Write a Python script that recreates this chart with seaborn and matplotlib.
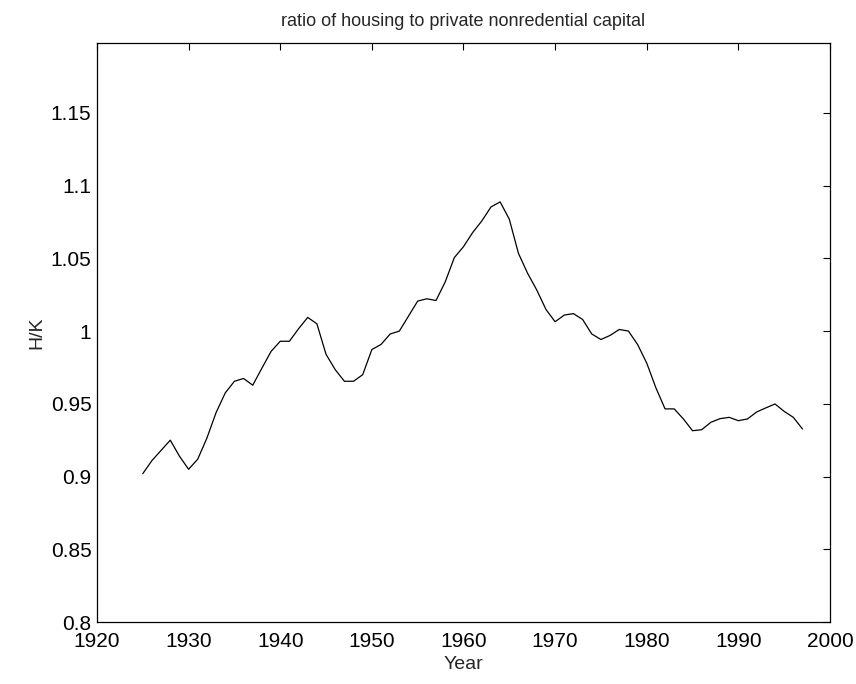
import pandas as pd
import matplotlib
matplotlib.use("Agg")
import matplotlib.pyplot as plt
import seaborn as sns

# Housing / private nonresidential capital, annual values
years = list(range(1925, 1998))
hk_ratio = [
    0.902, 0.911, 0.918, 0.925, 0.914, 0.905, 0.912, 0.9265, 0.944, 0.9575,
    0.9655, 0.9674, 0.9628, 0.9745, 0.986, 0.993, 0.993, 1.0016, 1.0094, 1.005,
    0.984, 0.9735, 0.9655, 0.9655, 0.970, 0.9873, 0.9908, 0.998, 1.000, 1.0103,
    1.0206, 1.0222, 1.021, 1.0337, 1.0505, 1.058, 1.0677, 1.0757, 1.0853, 1.0888,
    1.0769, 1.0534, 1.0397, 1.0282, 1.0149, 1.0064, 1.011, 1.012, 1.008, 0.998,
    0.9942, 0.997, 1.0011, 1.000, 0.9908, 0.978, 0.961, 0.9465, 0.9465, 0.9396,
    0.9315, 0.9322, 0.9373, 0.9398, 0.9407, 0.9384, 0.9396, 0.9444, 0.9472, 0.9499,
    0.9448, 0.9407, 0.9327,
]
x_ticks = [1920, 1930, 1940, 1950, 1960, 1970, 1980, 1990, 2000]
y_ticks = [0.8, 0.85, 0.9, 0.95, 1.0, 1.05, 1.1, 1.15]

df = pd.DataFrame({"Year": years, "H/K": hk_ratio})

sns.set_style("white")
plt.rcParams["font.family"] = ["Liberation Sans", "DejaVu Sans"]

fig = plt.figure(figsize=(8.56, 6.84), dpi=100)
ax = fig.add_axes([0.1133, 0.0906, 0.8563, 0.8465])

sns.lineplot(data=df, x="Year", y="H/K", color="black", linewidth=0.9, ax=ax)

ax.set_xlim(1920, 2000)
ax.set_ylim(0.8, 1.198)
ax.set_xticks(x_ticks)
ax.set_yticks(y_ticks)
ax.set_yticklabels([f"{v:g}" for v in y_ticks])

ax.tick_params(direction="in", length=5, width=0.8, colors="black",
               labelsize=15, top=True, right=True)
ax.tick_params(axis="x", pad=7)
ax.tick_params(axis="y", pad=4)
for s in ax.spines.values():
    s.set_color("black")
    s.set_linewidth(0.9)

ax.set_title("ratio of housing to private nonredential capital", fontsize=13, pad=12)
ax.set_xlabel("Year", fontsize=14, labelpad=4)
ax.set_ylabel("H/K", fontsize=14, labelpad=4)

fig.savefig("out.png", dpi=100)
